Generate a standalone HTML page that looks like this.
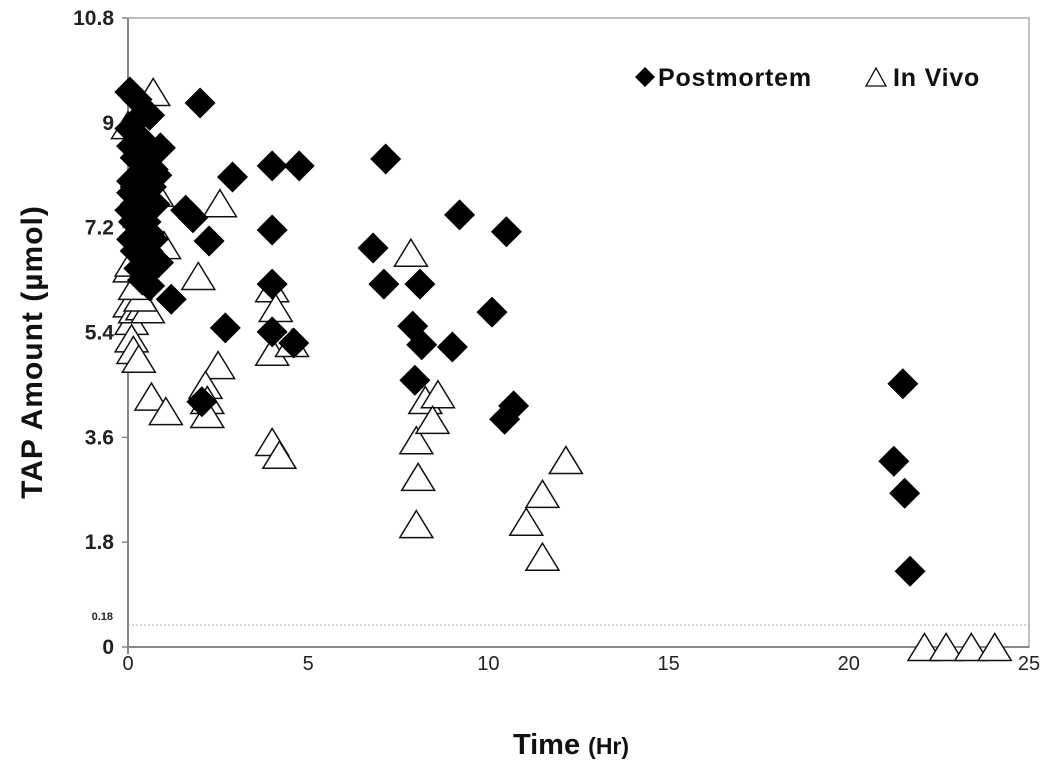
<!DOCTYPE html>
<html><head><meta charset="utf-8"><style>
body{margin:0;background:#fff;}
svg{display:block;font-family:"Liberation Sans",sans-serif;}
</style></head><body>
<svg id="chart" width="1050" height="771" viewBox="0 0 1050 771">
<g id="frame"></g>
<g id="marks"></g>
</svg>
<script>
const xTicks=[0,5,10,15,20,25];
const yTicks=[0,1.8,3.6,5.4,7.2,9,10.8];
const pmX=[0.05,0.25,2.0,0.3,0.6,0.9,2.9,4.0,4.75,7.15,1.6,1.8,9.2,10.5,4.0,2.25,6.8,7.1,8.1,4.0,1.2,2.7,4.0,4.6,7.9,8.15,9.0,10.1,7.96,2.05,10.45,10.7,21.5,21.25,21.55,21.7,
0.05,0.1,0.2,0.3,0.4,0.5,0.6,0.7,0.8,0.1,0.2,0.3,0.45,0.55,0.65,0.75,0.05,0.15,0.25,0.35,0.5,0.6,0.7,0.1,0.2,0.35,0.45,0.55,0.7,0.85,0.3,0.4,0.5,0.6,0.2,0.1,0.4,0.55];
const pmY=[9.53,9.4,9.34,9.08,9.13,8.57,8.07,8.26,8.26,8.38,7.5,7.37,7.42,7.13,7.16,6.97,6.85,6.23,6.23,6.23,5.97,5.48,5.41,5.22,5.51,5.19,5.15,5.75,4.58,4.21,3.91,4.14,4.52,3.19,2.64,1.3,
8.9,8.6,8.4,8.5,8.7,8.3,8.5,8.2,8.1,8.0,7.9,7.8,7.9,7.7,7.9,7.6,7.5,7.3,7.4,7.2,7.3,7.1,7.0,7.0,6.8,6.9,6.7,6.8,6.6,6.6,6.5,6.3,6.4,6.2,7.6,7.8,8.1,7.6];
const ivX=[0.7,0,2.55,1.95,7.85,0.05,4.0,4.1,4.0,4.55,2.5,2.15,2.2,0.65,1.05,2.2,4.0,4.2,8.0,8.05,8.0,8.25,8.6,8.45,11.05,11.5,12.15,11.5,22.1,22.7,23.4,24.05,
0.05,0.1,0.1,0.15,0.3,0.2,0.4,0.55,0.35,0.2,0.1,0.5,1.0,0.8];
const ivY=[9.53,8.96,7.62,6.37,6.77,6.5,6.16,5.82,5.07,5.22,4.84,4.5,4.24,4.3,4.05,4.0,3.52,3.3,3.55,2.92,2.11,4.24,4.34,3.9,2.15,2.63,3.21,1.55,0,0,0,0,
5.9,5.6,5.3,5.1,4.95,5.8,5.85,5.8,6.0,6.2,6.6,6.9,6.9,7.8];
const X0=128,X1=1029,Y0=647,Y1=18;
const sx=v=>X0+v/25*(X1-X0);
const sy=v=>Y0-v/10.8*(Y0-Y1);
const NS="http://www.w3.org/2000/svg";
function mk(tag,attrs,parent,text){const e=document.createElementNS(NS,tag);for(const k in attrs)e.setAttribute(k,attrs[k]);if(text!==undefined)e.textContent=text;parent.appendChild(e);return e;}
const fr=document.getElementById('frame'),mg=document.getElementById('marks');
let e;
e=mk('rect',{x:X0,y:Y1,width:X1-X0,height:Y0-Y1,fill:'none',stroke:'#aaa','stroke-width':1.5},fr);


e=mk('line',{x1:X0,x2:X1,y1:625,y2:625,stroke:'#aaa','stroke-dasharray':'2,2','stroke-width':1},fr);


e=mk('text',{x:113,y:620,'font-size':11,'font-weight':'bold','text-anchor':'end',fill:'#222'},fr,'0.18');


e=mk('line',{x1:X0,x2:X1,y1:Y0,y2:Y0,stroke:'#888','stroke-width':2},fr);


e=mk('line',{x1:X0,x2:X0,y1:Y1,y2:Y0+7,stroke:'#888','stroke-width':2},fr);


xTicks.forEach(t=>{
 e=mk('text',{x:sx(t),y:670,'font-size':20,'text-anchor':'middle',fill:'#222'},fr,String(t));
 
 
});
yTicks.forEach(t=>{
 e=mk('line',{x1:X0-6,x2:X0,y1:sy(t),y2:sy(t),stroke:'#888','stroke-width':1.5},fr);
 
 
 e=mk('text',{x:114,y:sy(t)+7,'font-size':21,'font-weight':'bold','text-anchor':'end',fill:'#222'},fr,String(t));
 
 
});
e=mk('text',{x:0,y:0,'font-size':30,'font-weight':'bold','text-anchor':'middle',fill:'#111','letter-spacing':'1',transform:'translate(42,352) rotate(-90)'},fr,'TAP Amount (µmol)');


e=mk('text',{x:571,y:754,'font-size':29,'font-weight':'bold','text-anchor':'middle',fill:'#111'},fr);


e.innerHTML='Time <tspan font-size="23">(Hr)</tspan>';
function diamond(cx,cy,r){return `M${cx},${cy-r} L${cx+r},${cy} L${cx},${cy+r} L${cx-r},${cy} Z`;}
function tri(cx,cy,w,h){return `M${cx},${cy-h/2} L${cx+w/2},${cy+h/2} L${cx-w/2},${cy+h/2} Z`;}
ivX.forEach((v,i)=>{
 e=mk('path',{d:tri(sx(v),sy(ivY[i]),33,27),fill:'#fff',stroke:'#111','stroke-width':1.5},mg);
 
 
});
pmX.forEach((v,i)=>{
 e=mk('path',{d:diamond(sx(v),sy(pmY[i]),15.5),fill:'#000'},mg);
 
 
});
const lg=mk('g',{},fr);


e=mk('path',{d:diamond(645,77,10),fill:'#000'},lg);


e=mk('text',{x:658,y:86,'font-size':25,'font-weight':'bold',fill:'#111','letter-spacing':'0.8'},lg,'Postmortem');


e=mk('path',{d:tri(876,77,20,18),fill:'#fff',stroke:'#111','stroke-width':1.3},lg);


e=mk('text',{x:893,y:86,'font-size':25,'font-weight':'bold',fill:'#111','letter-spacing':'0.8'},lg,'In Vivo');


</script>
</body></html>
